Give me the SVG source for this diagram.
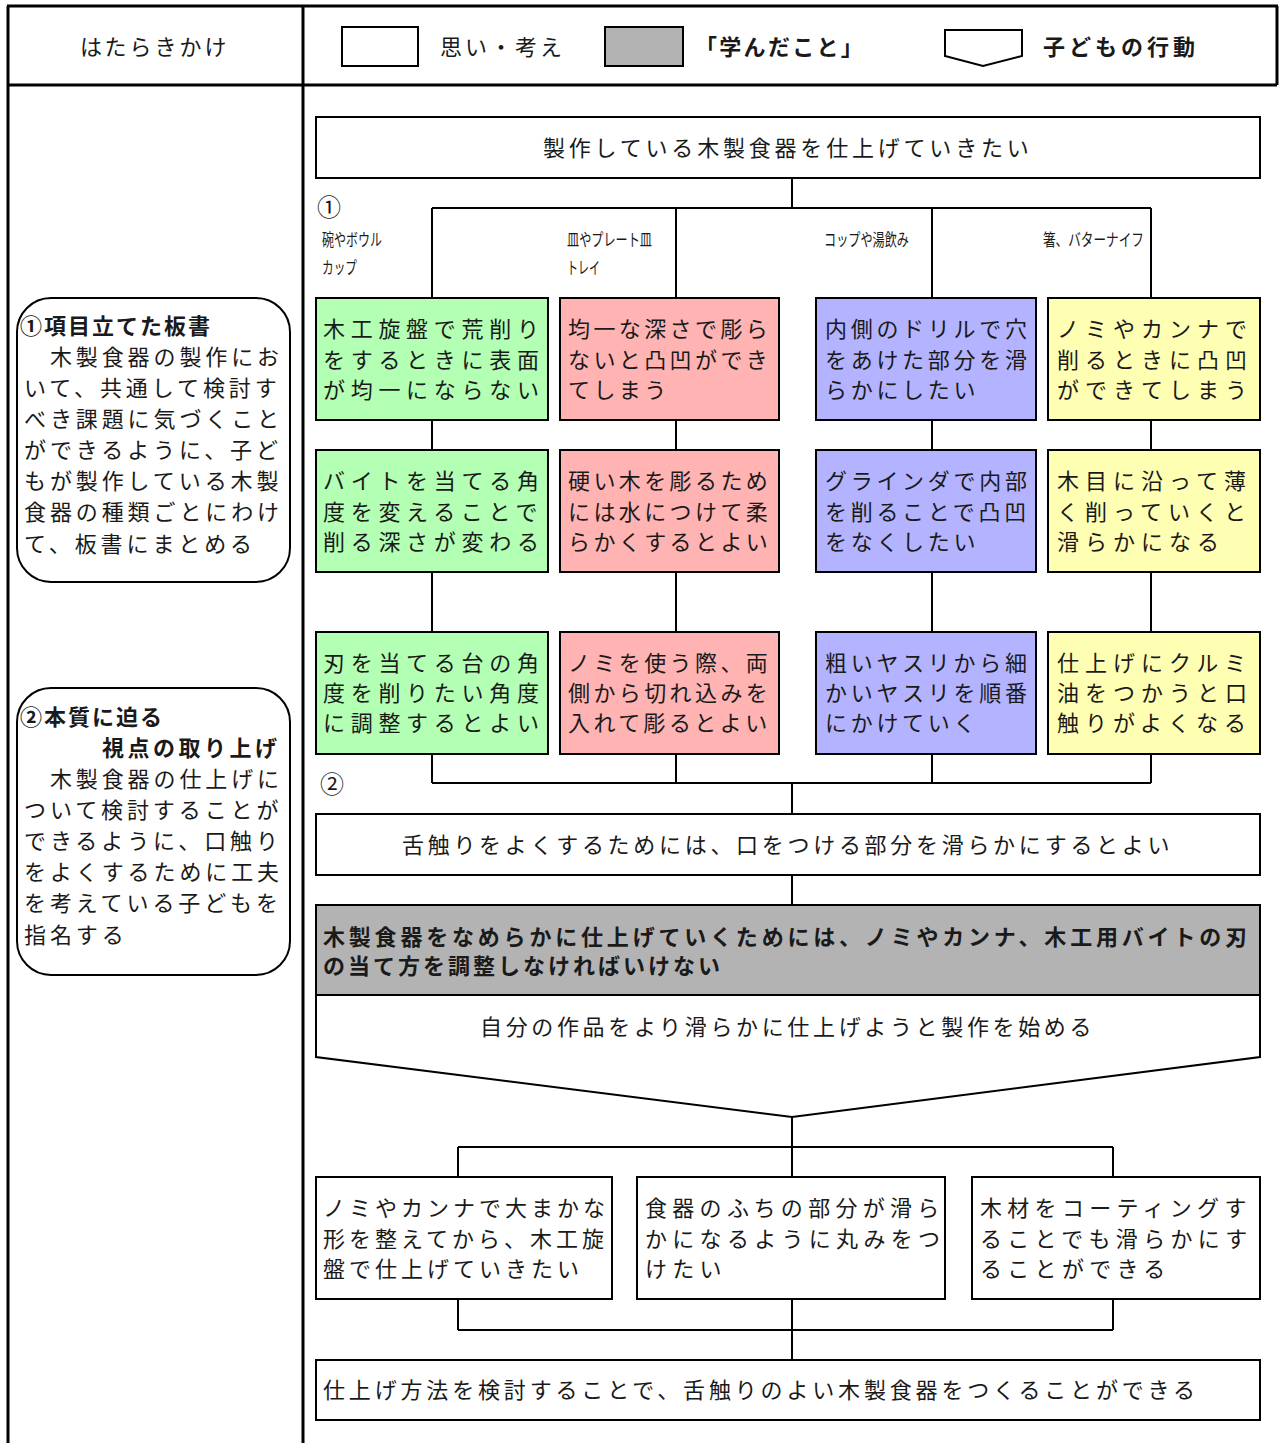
<svg xmlns="http://www.w3.org/2000/svg" width="1281" height="1443" viewBox="0 0 1281 1443">
<style>
text{font-family:"Noto Sans CJK JP","Noto Sans",sans-serif;font-size:22px;fill:#1a1a1a}
.b{font-weight:bold}
.box{stroke:#000;stroke-width:2}
.w{fill:#fff}
.g{fill:#b3ffb3}
.p{fill:#ffb3b3}
.u{fill:#b3b3ff}
.y{fill:#ffffb3}
.gr{fill:#b3b3b3}
.ln{stroke:#000;stroke-width:2;fill:none}
.fr{stroke:#000;stroke-width:3;fill:none}
.sm{font-size:17px}
.tg{letter-spacing:5.7px}
.tp{letter-spacing:3.4px}
.tu{letter-spacing:3.7px}
.ty{letter-spacing:6px}
.tl{letter-spacing:3.9px}
</style>
<rect width="1281" height="1443" fill="#fff"/>
<g id="frame">
<path class="fr" d="M7 6H1278M8 6V1443M1277 6V85M8 85H1277M303 6V1443"/>
</g>
<g id="header">
<text x="80" y="55" style="letter-spacing:3px">はたらきかけ</text>
<rect class="box w" x="342" y="27" width="76" height="39"/>
<text x="440" y="55" style="letter-spacing:3px">思い・考え</text>
<rect class="box gr" x="605" y="27" width="78" height="39"/>
<text class="b" x="695" y="55" style="letter-spacing:2.3px">「学んだこと」</text>
<path class="box w" d="M945 30H1022V56L983 66L945 56Z"/>
<text class="b" x="1043" y="55" style="letter-spacing:4px">子どもの行動</text>
</g>
<g id="connectors">
<path class="ln" d="M792 178V208M432 208H1151M432 208V298M676 208V298M932 208V298M1151 208V298"/>
<path class="ln" d="M432 420V450M676 420V450M932 420V450M1151 420V450"/>
<path class="ln" d="M432 572V632M676 572V632M932 572V632M1151 572V632"/>
<path class="ln" d="M432 754V783M676 754V783M932 754V783M1151 754V783M432 783H1151M792 783V814"/>
<path class="ln" d="M792 875V905"/>
<path class="ln" d="M792 1117V1147M458 1147H1113M458 1147V1177M792 1147V1177M1113 1147V1177"/>
<path class="ln" d="M458 1299V1330M792 1299V1330M1113 1299V1330M458 1330H1113M792 1330V1360"/>
</g>
<g id="left1">
<rect class="box w" x="17" y="298" width="273" height="284" rx="34"/>
<text class="b" x="20" y="334" style="letter-spacing:2px">①項目立てた板書</text>
<text class="tl" x="24" y="365">　木製食器の製作にお</text>
<text class="tl" x="24" y="396">いて、共通して検討す</text>
<text class="tl" x="24" y="427">べき課題に気づくこと</text>
<text class="tl" x="24" y="458">ができるように、子ど</text>
<text class="tl" x="24" y="489">もが製作している木製</text>
<text class="tl" x="24" y="520">食器の種類ごとにわけ</text>
<text class="tl" x="24" y="552">て、板書にまとめる</text>
</g>
<g id="left2">
<rect class="box w" x="17" y="688" width="273" height="287" rx="34"/>
<text class="b" x="20" y="725" style="letter-spacing:2px">②本質に迫る</text>
<text class="b" x="102" y="756" style="letter-spacing:3.5px">視点の取り上げ</text>
<text class="tl" x="24" y="787">　木製食器の仕上げに</text>
<text class="tl" x="24" y="818">ついて検討することが</text>
<text class="tl" x="24" y="849">できるように、口触り</text>
<text class="tl" x="24" y="880">をよくするために工夫</text>
<text class="tl" x="24" y="911">を考えている子どもを</text>
<text class="tl" x="24" y="943">指名する</text>
</g>
<g id="top">
<rect class="box w" x="316" y="117" width="944" height="61"/>
<text x="543" y="156" style="letter-spacing:3.8px">製作している木製食器を仕上げていきたい</text>
</g>
<g id="labels">
<text x="317" y="216" style="font-size:24px">①</text>
<text class="sm" x="322" y="246" textLength="60" lengthAdjust="spacingAndGlyphs">碗やボウル</text>
<text class="sm" x="322" y="274" textLength="35" lengthAdjust="spacingAndGlyphs">カップ</text>
<text class="sm" x="567" y="246" textLength="85" lengthAdjust="spacingAndGlyphs">皿やプレート皿</text>
<text class="sm" x="567" y="274" textLength="33" lengthAdjust="spacingAndGlyphs">トレイ</text>
<text class="sm" x="824" y="246" textLength="85" lengthAdjust="spacingAndGlyphs">コップや湯飲み</text>
<text class="sm" x="1043" y="246" textLength="101" lengthAdjust="spacingAndGlyphs">箸、バターナイフ</text>
<text x="320" y="793" style="font-size:24px">②</text>
</g>
<g id="g1"><rect class="box g" x="316" y="298" width="232" height="122"/>
<text class="tg" x="323" y="337">木工旋盤で荒削り</text><text class="tg" x="323" y="368">をするときに表面</text><text class="tg" x="323" y="398">が均一にならない</text></g>
<g id="p1"><rect class="box p" x="560" y="298" width="219" height="122"/>
<text class="tp" x="568" y="337">均一な深さで彫ら</text><text class="tp" x="568" y="368">ないと凸凹ができ</text><text class="tp" x="568" y="398">てしまう</text></g>
<g id="u1"><rect class="box u" x="816" y="298" width="220" height="122"/>
<text class="tu" x="825" y="337">内側のドリルで穴</text><text class="tu" x="825" y="368">をあけた部分を滑</text><text class="tu" x="825" y="398">らかにしたい</text></g>
<g id="y1"><rect class="box y" x="1048" y="298" width="212" height="122"/>
<text class="ty" x="1057" y="337">ノミやカンナで</text><text class="ty" x="1057" y="368">削るときに凸凹</text><text class="ty" x="1057" y="398">ができてしまう</text></g>
<g id="g2"><rect class="box g" x="316" y="450" width="232" height="122"/>
<text class="tg" x="323" y="489">バイトを当てる角</text><text class="tg" x="323" y="520">度を変えることで</text><text class="tg" x="323" y="550">削る深さが変わる</text></g>
<g id="p2"><rect class="box p" x="560" y="450" width="219" height="122"/>
<text class="tp" x="568" y="489">硬い木を彫るため</text><text class="tp" x="568" y="520">には水につけて柔</text><text class="tp" x="568" y="550">らかくするとよい</text></g>
<g id="u2"><rect class="box u" x="816" y="450" width="220" height="122"/>
<text class="tu" x="825" y="489">グラインダで内部</text><text class="tu" x="825" y="520">を削ることで凸凹</text><text class="tu" x="825" y="550">をなくしたい</text></g>
<g id="y2"><rect class="box y" x="1048" y="450" width="212" height="122"/>
<text class="ty" x="1057" y="489">木目に沿って薄</text><text class="ty" x="1057" y="520">く削っていくと</text><text class="ty" x="1057" y="550">滑らかになる</text></g>
<g id="g3"><rect class="box g" x="316" y="632" width="232" height="122"/>
<text class="tg" x="323" y="671">刃を当てる台の角</text><text class="tg" x="323" y="701">度を削りたい角度</text><text class="tg" x="323" y="731">に調整するとよい</text></g>
<g id="p3"><rect class="box p" x="560" y="632" width="219" height="122"/>
<text class="tp" x="568" y="671">ノミを使う際、両</text><text class="tp" x="568" y="701">側から切れ込みを</text><text class="tp" x="568" y="731">入れて彫るとよい</text></g>
<g id="u3"><rect class="box u" x="816" y="632" width="220" height="122"/>
<text class="tu" x="825" y="671">粗いヤスリから細</text><text class="tu" x="825" y="701">かいヤスリを順番</text><text class="tu" x="825" y="731">にかけていく</text></g>
<g id="y3"><rect class="box y" x="1048" y="632" width="212" height="122"/>
<text class="ty" x="1057" y="671">仕上げにクルミ</text><text class="ty" x="1057" y="701">油をつかうと口</text><text class="ty" x="1057" y="731">触りがよくなる</text></g>
<g id="tongue">
<rect class="box w" x="316" y="814" width="944" height="61"/>
<text x="402" y="853" style="letter-spacing:3.7px">舌触りをよくするためには、口をつける部分を滑らかにするとよい</text>
</g>
<g id="learned">
<rect class="box gr" x="316" y="905" width="944" height="90"/>
<text class="b" x="323" y="945" textLength="924" lengthAdjust="spacing">木製食器をなめらかに仕上げていくためには、ノミやカンナ、木工用バイトの刃</text>
<text class="b" x="323" y="974" style="letter-spacing:3px">の当て方を調整しなければいけない</text>
</g>
<g id="action">
<path class="box w" d="M316 995H1260V1057L792 1117L316 1057Z"/>
<text x="480" y="1035" style="letter-spacing:3.65px">自分の作品をより滑らかに仕上げようと製作を始める</text>
</g>
<g id="b1"><rect class="box w" x="316" y="1177" width="296" height="122"/>
<text x="323" y="1216" style="letter-spacing:4px">ノミやカンナで大まかな</text><text x="323" y="1247" style="letter-spacing:4px">形を整えてから、木工旋</text><text x="323" y="1277" style="letter-spacing:4px">盤で仕上げていきたい</text></g>
<g id="b2"><rect class="box w" x="637" y="1177" width="308" height="122"/>
<text x="645" y="1216" style="letter-spacing:5.3px">食器のふちの部分が滑ら</text><text x="645" y="1247" style="letter-spacing:5.3px">かになるように丸みをつ</text><text x="645" y="1277" style="letter-spacing:5.3px">けたい</text></g>
<g id="b3"><rect class="box w" x="972" y="1177" width="288" height="122"/>
<text x="980" y="1216" style="letter-spacing:5.3px">木材をコーティングす</text><text x="980" y="1247" style="letter-spacing:5.3px">ることでも滑らかにす</text><text x="980" y="1277" style="letter-spacing:5.3px">ることができる</text></g>
<g id="final">
<rect class="box w" x="316" y="1360" width="944" height="60"/>
<text x="323" y="1398" textLength="872" lengthAdjust="spacing">仕上げ方法を検討することで、舌触りのよい木製食器をつくることができる</text>
</g>
</svg>
